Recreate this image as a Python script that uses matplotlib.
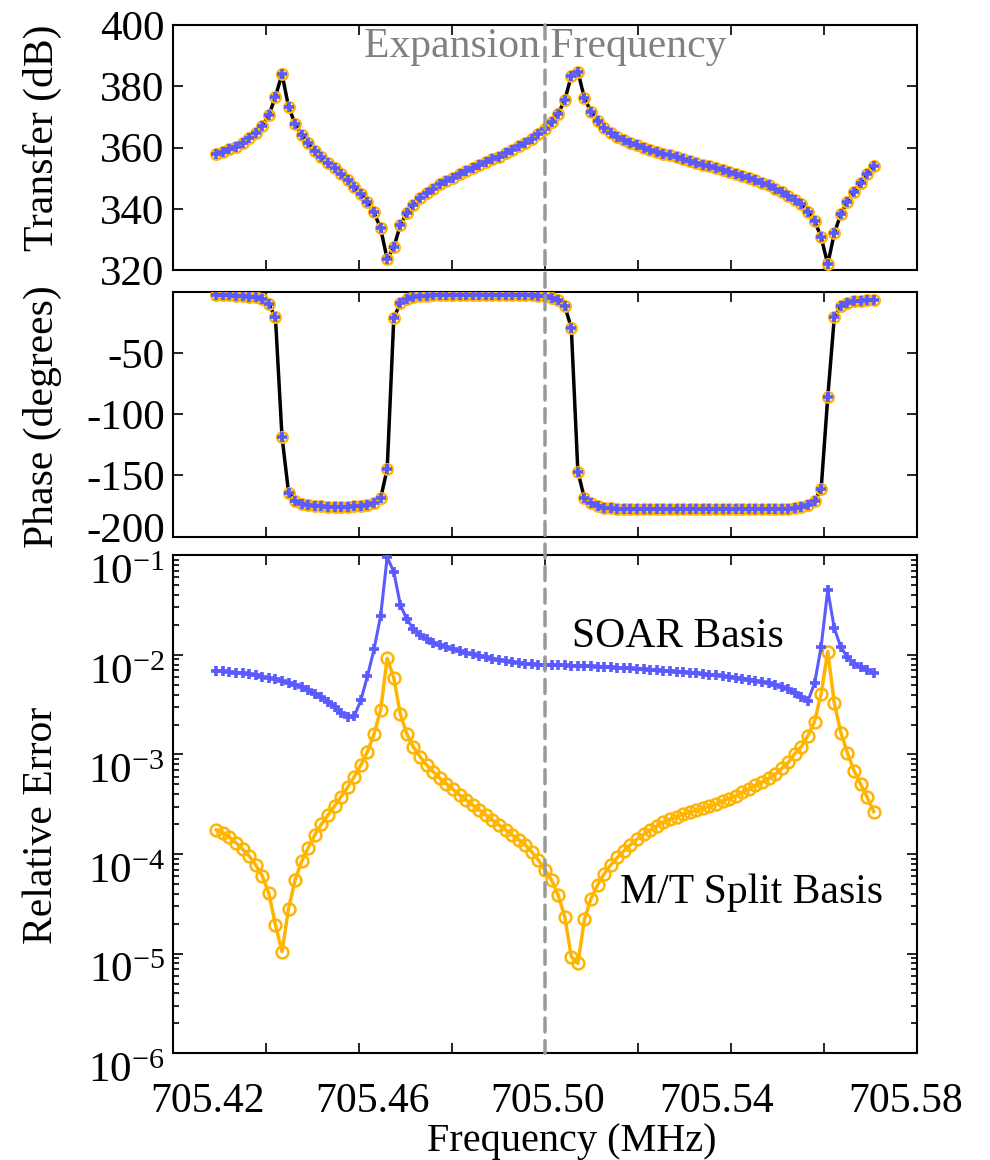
import numpy as np
import matplotlib
matplotlib.use("Agg")
import matplotlib.pyplot as plt
import matplotlib.transforms as mtransforms
from matplotlib.patches import ConnectionPatch

plt.rcParams['font.family'] = ['Liberation Serif', 'DejaVu Serif']
plt.rcParams['mathtext.fontset'] = 'custom'
plt.rcParams['mathtext.rm'] = 'Liberation Serif'
plt.rcParams['mathtext.it'] = 'Liberation Serif:italic'
plt.rcParams['axes.unicode_minus'] = False

# ---------------- data ----------------
freq_start, freq_stop, n_points = 705.4293, 705.5707, 101
freq = np.linspace(freq_start, freq_stop, n_points)
expansion_freq = 705.50

transfer_db = [
    357.9, 358.6, 359.5, 360.3, 361.6, 363.0, 364.8, 367.1, 370.5, 376.6,
    384.0, 373.3, 367.7, 364.1, 361.4, 359.0, 357.0, 354.8, 353.2, 351.3,
    349.4, 347.2, 344.8, 342.3, 338.8, 333.6, 323.5, 327.4, 334.7, 338.7,
    341.2, 343.4, 345.0, 346.6, 348.0, 349.2, 350.1, 351.2, 352.3, 353.2,
    354.3, 355.2, 356.1, 357.0, 358.1, 359.2, 360.5, 361.6, 362.8, 364.5,
    366.2, 368.2, 371.0, 375.5, 383.3, 384.8, 376.1, 371.7, 368.8, 366.5,
    364.6, 363.3, 362.3, 361.5, 360.7, 360.0, 359.3, 358.6, 358.0, 357.4,
    356.8, 356.2, 355.6, 355.0, 354.4, 353.8, 353.2, 352.6, 352.0, 351.4,
    350.7, 350.0, 349.3, 348.5, 347.6, 346.6, 345.4, 344.2, 343.0, 341.6,
    339.0, 336.1, 330.7, 321.9, 332.0, 338.3, 342.3, 345.6, 348.5, 351.3,
    354.0]

phase_deg = [
    -2.7, -2.8, -3.0, -3.2, -3.5, -4.0, -4.7, -6.0, -10.0, -20.9,
    -118.4, -164.0, -170.6, -173.0, -174.2, -174.8, -175.2, -175.4, -175.5, -175.5,
    -175.4, -175.2, -174.8, -174.1, -172.8, -168.7, -144.7, -21.7, -9.0, -6.0,
    -4.5, -3.8, -3.3, -3.0, -2.8, -2.7, -2.6, -2.5, -2.5, -2.5,
    -2.5, -2.5, -2.5, -2.5, -2.6, -2.6, -2.7, -2.8, -3.0, -3.3,
    -3.8, -4.8, -6.5, -11.7, -29.4, -146.9, -168.7, -172.8, -175.0, -176.2,
    -176.8, -177.1, -177.3, -177.4, -177.5, -177.5, -177.5, -177.5, -177.5, -177.5,
    -177.5, -177.5, -177.5, -177.5, -177.5, -177.5, -177.5, -177.5, -177.5, -177.5,
    -177.5, -177.5, -177.5, -177.5, -177.5, -177.5, -177.4, -177.2, -176.8, -176.0,
    -174.5, -170.6, -161.0, -86.3, -20.9, -11.7, -9.0, -7.8, -7.2, -6.9,
    -6.8]

err_soar = [
    6.93e-3, 6.82e-3, 6.73e-3, 6.62e-3, 6.52e-3, 6.37e-3, 6.22e-3, 6.04e-3, 5.85e-3, 5.68e-3,
    5.50e-3, 5.25e-3, 5.01e-3, 4.72e-3, 4.44e-3, 4.05e-3, 3.74e-3, 3.39e-3, 3.02e-3, 2.62e-3,
    2.37e-3, 2.43e-3, 3.52e-3, 6.14e-3, 1.14e-2, 2.46e-2, 9.55e-2, 6.84e-2, 3.17e-2, 2.28e-2,
    1.81e-2, 1.58e-2, 1.43e-2, 1.33e-2, 1.25e-2, 1.19e-2, 1.14e-2, 1.09e-2, 1.05e-2, 1.01e-2,
    9.75e-3, 9.46e-3, 9.16e-3, 8.89e-3, 8.69e-3, 8.49e-3, 8.30e-3, 8.11e-3, 8.04e-3, 7.98e-3,
    7.94e-3, 7.91e-3, 7.87e-3, 7.83e-3, 7.80e-3, 7.76e-3, 7.71e-3, 7.66e-3, 7.60e-3, 7.55e-3,
    7.50e-3, 7.45e-3, 7.38e-3, 7.31e-3, 7.24e-3, 7.18e-3, 7.11e-3, 7.05e-3, 6.97e-3, 6.89e-3,
    6.81e-3, 6.73e-3, 6.64e-3, 6.55e-3, 6.46e-3, 6.35e-3, 6.25e-3, 6.14e-3, 6.03e-3, 5.90e-3,
    5.78e-3, 5.65e-3, 5.51e-3, 5.36e-3, 5.19e-3, 4.99e-3, 4.76e-3, 4.50e-3, 4.17e-3, 3.80e-3,
    3.47e-3, 5.19e-3, 1.21e-2, 4.49e-2, 1.85e-2, 1.19e-2, 9.46e-3, 8.11e-3, 7.50e-3, 7.05e-3,
    6.62e-3]

err_mt = [
    1.75e-4, 1.62e-4, 1.48e-4, 1.30e-4, 1.12e-4, 9.57e-5, 7.78e-5, 6.03e-5, 4.04e-5, 1.94e-5,
    1.05e-5, 2.84e-5, 5.55e-5, 8.47e-5, 1.16e-4, 1.56e-4, 2.00e-4, 2.47e-4, 3.04e-4, 3.78e-4,
    4.69e-4, 6.00e-4, 7.85e-4, 1.07e-3, 1.60e-3, 2.80e-3, 9.25e-3, 5.90e-3, 2.53e-3, 1.60e-3,
    1.18e-3, 9.51e-4, 7.85e-4, 6.71e-4, 5.77e-4, 5.06e-4, 4.47e-4, 3.92e-4, 3.49e-4, 3.11e-4,
    2.77e-4, 2.47e-4, 2.20e-4, 1.96e-4, 1.75e-4, 1.56e-4, 1.39e-4, 1.24e-4, 1.05e-4, 8.71e-5,
    6.92e-5, 5.50e-5, 3.88e-5, 2.36e-5, 9.33e-6, 8.00e-6, 2.21e-5, 3.58e-5, 4.90e-5, 6.31e-5,
    7.78e-5, 9.27e-5, 1.08e-4, 1.24e-4, 1.41e-4, 1.58e-4, 1.74e-4, 1.91e-4, 2.09e-4, 2.24e-4,
    2.34e-4, 2.51e-4, 2.63e-4, 2.75e-4, 2.88e-4, 3.02e-4, 3.16e-4, 3.39e-4, 3.59e-4, 3.80e-4,
    4.17e-4, 4.47e-4, 4.90e-4, 5.25e-4, 5.75e-4, 6.31e-4, 7.24e-4, 8.32e-4, 1.02e-3, 1.20e-3,
    1.55e-3, 2.14e-3, 4.07e-3, 1.08e-2, 3.27e-3, 1.66e-3, 1.03e-3, 6.87e-4, 5.06e-4, 3.72e-4,
    2.67e-4]

xtick_labels = ['705.42', '705.46', '705.50', '705.54', '705.58']
xtick_label_pos = [705.4275, 705.4630, 705.5005, 705.5370, 705.5775]
transfer_ticks = [320, 340, 360, 380, 400]
phase_ticks = [-200, -150, -100, -50]
err_ticks = [1e-6, 1e-5, 1e-4, 1e-3, 1e-2, 1e-1]

# ---------------- style ----------------
BLUE = '#5a5aff'
ORANGE = '#ffb400'
GRAY = '#999999'
W, H = 990, 1160
fig = plt.figure(figsize=(W / 100, H / 100), dpi=100)

def frac(left, top, right, bottom):
    return [left / W, 1 - bottom / H, (right - left) / W, (bottom - top) / H]

ax1 = fig.add_axes(frac(173, 25, 917, 270))
ax2 = fig.add_axes(frac(173, 291.7, 917, 536.7))
ax3 = fig.add_axes(frac(173, 555.3, 917, 1053.3))

xlim = (705.42, 705.58)
xticks = np.arange(705.42, 705.5801, 0.02)
for ax in (ax1, ax2, ax3):
    ax.set_xlim(*xlim)
    ax.set_xticks(xticks)
    ax.set_xticklabels([])
    ax.tick_params(which='both', direction='in', top=True, right=True,
                   width=1.2, labelsize=31, pad=6)
    ax.tick_params(which='major', length=7)
    ax.tick_params(which='minor', length=4)
    for s in ax.spines.values():
        s.set_linewidth(1.5)

# top: transfer
ax1.plot(freq, transfer_db, color='black', lw=2.5, zorder=2)
ax1.plot(freq, transfer_db, ls='none', marker='o', ms=7.5, mfc='none',
         mec=ORANGE, mew=1.8, zorder=3)
ax1.plot(freq, transfer_db, ls='none', marker='+', ms=6.5, mec=BLUE,
         mew=2.6, zorder=4)
ax1.set_ylim(320, 400)
ax1.set_yticks(transfer_ticks)
ax1.text(expansion_freq, 392.8, 'Expansion Frequency', color='#808080',
         fontsize=30, ha='center', va='center', zorder=5)

# middle: phase
ax2.plot(freq, phase_deg, color='black', lw=2.5, zorder=2)
ax2.plot(freq, phase_deg, ls='none', marker='o', ms=7.5, mfc='none',
         mec=ORANGE, mew=1.8, zorder=3)
ax2.plot(freq, phase_deg, ls='none', marker='+', ms=6.5, mec=BLUE,
         mew=2.6, zorder=4)
ax2.set_ylim(-200, 0)
ax2.set_yticks(phase_ticks)

# bottom: relative error
ax3.set_yscale('log')
ax3.plot(freq, err_mt, color=ORANGE, lw=2.5, marker='o', ms=8.5,
         mfc='none', mec=ORANGE, mew=1.8, zorder=3)
ax3.plot(freq, err_soar, color=BLUE, lw=2.2, marker='+', ms=7,
         mec=BLUE, mew=2.6, zorder=4)
ax3.set_ylim(1e-6, 1e-1)
ax3.set_yticks(err_ticks)
ax3.yaxis.set_minor_locator(matplotlib.ticker.LogLocator(base=10, subs=np.arange(2, 10), numticks=20))
ax3.yaxis.set_minor_formatter(matplotlib.ticker.NullFormatter())
ax3.text(705.5286, 0.0151, 'SOAR Basis', fontsize=30, ha='center', va='center')
ax3.text(705.5445, 4.07e-5, 'M/T Split Basis', fontsize=30, ha='center', va='center')

# shift log tick labels down a little, and the -200 label up (as in reference)
down = mtransforms.ScaledTranslation(0, -14 / 100, fig.dpi_scale_trans)
for tk in ax3.yaxis.get_major_ticks():
    tk.label1.set_transform(tk.label1.get_transform() + down)
up = mtransforms.ScaledTranslation(0, 9 / 100, fig.dpi_scale_trans)
for tk, v in zip(ax2.yaxis.get_major_ticks(), phase_ticks):
    if v == -200:
        tk.label1.set_transform(tk.label1.get_transform() + up)

# x tick labels
for lab, pos in zip(xtick_labels, xtick_label_pos):
    ax3.text(pos, -(1102 - 1053.3) / 498, lab, transform=ax3.get_xaxis_transform(),
             fontsize=30, ha='center', va='center')
fig.text(572 / W, 1 - 1141 / H, 'Frequency (MHz)', fontsize=29,
         ha='center', va='center')

# y labels
fig.text(42 / W, 1 - 138 / H, 'Transfer (dB)', rotation=90, fontsize=30,
         ha='center', va='center')
fig.text(42 / W, 1 - 417 / H, 'Phase (degrees)', rotation=90, fontsize=30,
         ha='center', va='center')
fig.text(42 / W, 1 - 825 / H, 'Relative Error', rotation=90, fontsize=30,
         ha='center', va='center')

# expansion frequency dashed line through all panels
con = ConnectionPatch(xyA=(expansion_freq, 400), coordsA=ax1.transData,
                      xyB=(expansion_freq, 1e-6), coordsB=ax3.transData,
                      color=GRAY, lw=2.5, ls=(0, (4, 2.5)), zorder=10)
fig.add_artist(con)

fig.savefig('out.png', dpi=100)
